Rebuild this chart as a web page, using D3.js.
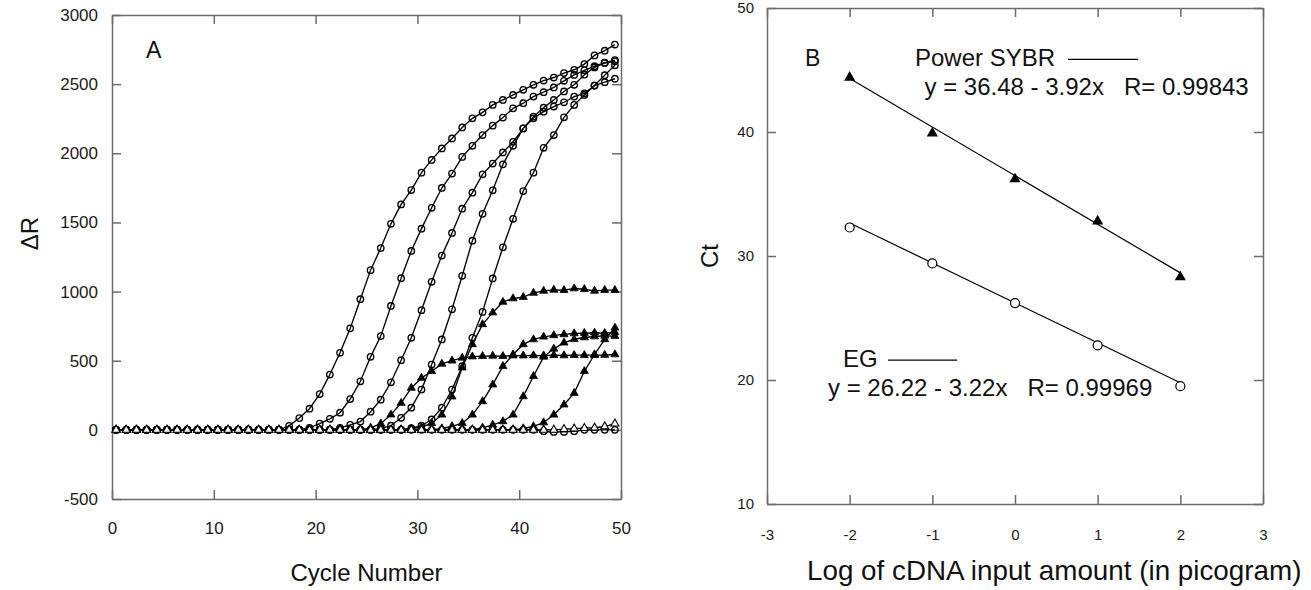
<!DOCTYPE html>
<html>
<head>
<meta charset="utf-8">
<script src="https://cdn.jsdelivr.net/npm/d3@7"></script>
<style>
  html, body { margin: 0; padding: 0; background: #fff; }
  svg { display: block; font-family: "Liberation Sans", Arial, Helvetica, sans-serif; }
  .frame .domain, .frame .tick line { stroke: #6b6b6b; stroke-width: 1.5; }
  .frame text { fill: #1a1a1a; }
</style>
</head>
<body>
<svg id="chart" width="1311" height="590"></svg>
<script>
// ---------- panel A: amplification curves (delta R per cycle) ----------
const cycles = d3.range(1, 51);

// EG runs, open circles
const egRun1 = [
  0, 0, 0, 0, 0, 0, 0, 0, 0, 0,
  0, 0, 0, 0, 0, 0, 0, 29, 85, 153,
  259, 400, 557, 734, 945, 1155, 1315, 1490, 1630, 1734,
  1860, 1952, 2035, 2107, 2187, 2253, 2296, 2350, 2386, 2422,
  2459, 2495, 2526, 2548, 2580, 2604, 2645, 2708, 2742, 2786
];
const egRun2 = [
  0, 0, 0, 0, 0, 0, 0, 0, 0, 0,
  0, 0, 0, 0, 0, 0, 0, 0, 0, 15,
  45, 80, 124, 223, 351, 528, 678, 896, 1097, 1294,
  1455, 1606, 1749, 1853, 1974, 2054, 2132, 2200, 2258, 2325,
  2362, 2410, 2442, 2476, 2524, 2567, 2600, 2630, 2655, 2674
];
const egRun3 = [
  0, 0, 0, 0, 0, 0, 0, 0, 0, 0,
  0, 0, 0, 0, 0, 0, 0, 0, 0, 0,
  0, 0, 15, 36, 60, 131, 218, 344, 504, 666,
  865, 1071, 1260, 1424, 1599, 1715, 1848, 1926, 2006, 2083,
  2180, 2253, 2301, 2338, 2369, 2410, 2434, 2490, 2514, 2539
];
const egRun4 = [
  0, 0, 0, 0, 0, 0, 0, 0, 0, 0,
  0, 0, 0, 0, 0, 0, 0, 0, 0, 0,
  0, 0, 0, 0, 0, 0, 10, 30, 87, 160,
  291, 472, 654, 872, 1114, 1368, 1562, 1732, 1920, 2054,
  2180, 2265, 2330, 2386, 2447, 2495, 2568, 2621, 2653, 2665
];
const egRun5 = [
  0, 0, 0, 0, 0, 0, 0, 0, 0, 0,
  0, 0, 0, 0, 0, 0, 0, 0, 0, 0,
  0, 0, 0, 0, 0, 0, 0, 0, 0, 12,
  30, 75, 160, 291, 460, 666, 853, 1095, 1320, 1526,
  1727, 1860, 2040, 2132, 2260, 2350, 2422, 2490, 2565, 2636
];

// Power SYBR runs, filled triangles
const sybrRun1 = [
  0, 0, 0, 0, 0, 0, 0, 0, 0, 0,
  0, 0, 0, 0, 0, 0, 0, 0, 0, 0,
  0, 0, 0, 0, 0, 15, 45, 110, 194, 303,
  375, 424, 477, 500, 521, 530, 533, 535, 533, 537,
  537, 538, 537, 540, 538, 540, 540, 540, 541, 545
];
const sybrRun2 = [
  0, 0, 0, 0, 0, 0, 0, 0, 0, 0,
  0, 0, 0, 0, 0, 0, 0, 0, 0, 0,
  0, 0, 0, 0, 0, 0, 0, 0, 0, 8,
  20, 48, 109, 240, 450, 618, 763, 848, 925, 950,
  960, 990, 1005, 1012, 1010, 1022, 1017, 1005, 1010, 1010
];
const sybrRun3 = [
  0, 0, 0, 0, 0, 0, 0, 0, 0, 0,
  0, 0, 0, 0, 0, 0, 0, 0, 0, 0,
  0, 0, 0, 0, 0, 0, 0, 0, 0, 0,
  0, 0, 10, 25, 48, 109, 206, 327, 460, 545,
  618, 654, 673, 683, 690, 697, 700, 702, 700, 705
];
const sybrRun4 = [
  0, 0, 0, 0, 0, 0, 0, 0, 0, 0,
  0, 0, 0, 0, 0, 0, 0, 0, 0, 0,
  0, 0, 0, 0, 0, 0, 0, 0, 0, 0,
  0, 0, 0, 0, 0, 0, 15, 36, 61, 109,
  242, 388, 528, 586, 630, 655, 668, 675, 680, 678
];
const sybrRun5 = [
  0, 0, 0, 0, 0, 0, 0, 0, 0, 0,
  0, 0, 0, 0, 0, 0, 0, 0, 0, 0,
  0, 0, 0, 0, 0, 0, 0, 0, 0, 0,
  0, 0, 0, 0, 0, 0, 0, 0, 0, 0,
  10, 25, 53, 109, 182, 266, 424, 545, 654, 738
];

// no-template controls
const ntcTriangle = [
  0, 0, 0, 0, 0, 0, 0, 0, 0, 0,
  0, 0, 0, 0, 0, 0, 0, 0, 0, 0,
  0, 0, 0, 0, 0, 0, 0, 0, 0, 0,
  0, 0, 0, 0, 0, 0, 0, 0, 0, 0,
  0, 0, 0, 0, 5, 8, 12, 15, 24, 45
];
const ntcCircle = [
  0, 0, 0, 0, 0, 0, 0, 0, 0, 0,
  0, 0, 0, 0, 0, 0, 0, 0, 0, 0,
  0, 0, 0, 0, 0, 0, 0, 0, 0, 0,
  0, 0, 0, 0, 0, 0, 0, 0, 0, 0,
  0, 0, -10, -15, -15, -10, 0, 0, 0, 0
];

const cycleTicks = [0, 10, 20, 30, 40, 50];
const deltaRTicks = [-500, 0, 500, 1000, 1500, 2000, 2500, 3000];

// ---------- panel B: standard curves ----------
const logInput = [-2, -1, 0, 1, 2];
const sybrCt = [44.4, 39.9, 36.2, 32.8, 28.3];
const egCt = [32.3, 29.4, 26.2, 22.8, 19.5];
const sybrFit = { intercept: 36.48, slope: -3.92, r: 0.99843 };
const egFit = { intercept: 26.22, slope: -3.22, r: 0.99969 };
const logTicks = [-3, -2, -1, 0, 1, 2, 3];
const ctTicks = [10, 20, 30, 40, 50];

const svg = d3.select("#chart");
svg.append("rect").attr("width", 1311).attr("height", 590).attr("fill", "#fff");

// frame with inward ticks on all four sides
function drawFrame(g, x, y, xTicks, yTicks, fontSize, xPad, yPad) {
  const [x0, x1] = x.range();
  const [y0, y1] = y.range();
  const fmt = d => String(d);
  g.append("g").attr("class", "frame").attr("transform", `translate(0,${y0})`)
    .call(d3.axisBottom(x).tickValues(xTicks).tickSizeInner(-9).tickSizeOuter(0).tickPadding(xPad).tickFormat(fmt));
  g.append("g").attr("class", "frame").attr("transform", `translate(0,${y1})`)
    .call(d3.axisTop(x).tickValues(xTicks).tickSizeInner(-9).tickSizeOuter(0).tickFormat(""));
  g.append("g").attr("class", "frame").attr("transform", `translate(${x0},0)`)
    .call(d3.axisLeft(y).tickValues(yTicks).tickSizeInner(-9).tickSizeOuter(0).tickPadding(yPad).tickFormat(fmt));
  g.append("g").attr("class", "frame").attr("transform", `translate(${x1},0)`)
    .call(d3.axisRight(y).tickValues(yTicks).tickSizeInner(-9).tickSizeOuter(0).tickFormat(""));
  g.selectAll(".frame").attr("font-size", fontSize).attr("font-family", null);
}

// ---------- panel A ----------
const xA = d3.scaleLinear().domain([0, 50]).range([112, 621]);
// the instrument plots cycle n slightly left of the tick for n
const xCycle = d3.scaleLinear().domain([0.6, 50.6]).range([112, 621]);
const yA = d3.scaleLinear().domain([-500, 3000]).range([499, 15]);

const gA = svg.append("g");
drawFrame(gA, xA, yA, cycleTicks, deltaRTicks, 17, 23, 14);

const lineA = d3.line().x(d => xCycle(d.c)).y(d => yA(d.v));
const asPoints = arr => arr.map((v, i) => ({ c: cycles[i], v }));

const runs = [
  { data: egRun1, mark: "circle" },
  { data: egRun2, mark: "circle" },
  { data: egRun3, mark: "circle" },
  { data: egRun4, mark: "circle" },
  { data: egRun5, mark: "circle" },
  { data: ntcCircle, mark: "circle" },
  { data: sybrRun1, mark: "triangle" },
  { data: sybrRun2, mark: "triangle" },
  { data: sybrRun3, mark: "triangle" },
  { data: sybrRun4, mark: "triangle" },
  { data: sybrRun5, mark: "triangle" },
  { data: ntcTriangle, mark: "openTriangle" }
];

const smallTri = d3.symbol(d3.symbolTriangle).size(28);

runs.forEach(run => {
  const pts = asPoints(run.data);
  const g = gA.append("g");
  g.append("path")
    .attr("d", lineA(pts))
    .attr("fill", "none")
    .attr("stroke", "#000")
    .attr("stroke-width", 1.35);
  if (run.mark === "circle") {
    g.selectAll("circle").data(pts).join("circle")
      .attr("cx", d => xCycle(d.c))
      .attr("cy", d => yA(d.v))
      .attr("r", 3.2)
      .attr("fill", "none")
      .attr("stroke", "#000")
      .attr("stroke-width", 1.35);
  } else {
    g.selectAll("path.m").data(pts).join("path")
      .attr("class", "m")
      .attr("d", smallTri)
      .attr("transform", d => `translate(${xCycle(d.c)},${yA(d.v)})`)
      .attr("fill", run.mark === "triangle" ? "#000" : "#fff")
      .attr("stroke", "#000")
      .attr("stroke-width", run.mark === "triangle" ? 0.8 : 1.1);
  }
});

gA.append("text")
  .attr("x", xA(3.35)).attr("y", yA(2690))
  .attr("font-size", 23).attr("fill", "#111")
  .text("A");

gA.append("text")
  .attr("transform", `translate(38,${yA(1420)}) rotate(-90)`)
  .attr("text-anchor", "middle")
  .attr("font-size", 24).attr("fill", "#111")
  .text("ΔR");

gA.append("text")
  .attr("x", (xA.range()[0] + xA.range()[1]) / 2).attr("y", 581)
  .attr("text-anchor", "middle")
  .attr("font-size", 24).attr("fill", "#111")
  .text("Cycle Number");

// ---------- panel B ----------
const xB = d3.scaleLinear().domain([-3, 3]).range([767, 1263]);
const yB = d3.scaleLinear().domain([10, 50]).range([504, 8]);

const gB = svg.append("g");
drawFrame(gB, xB, yB, logTicks, ctTicks, 15, 25, 13);

const fitLine = fit => [logInput[0], logInput[logInput.length - 1]]
  .map(x => [xB(x), yB(fit.intercept + fit.slope * x)]);

[sybrFit, egFit].forEach(fit => {
  gB.append("path")
    .attr("d", d3.line()(fitLine(fit)))
    .attr("stroke", "#000")
    .attr("stroke-width", 1.2)
    .attr("fill", "none");
});

gB.selectAll("path.tri").data(logInput.map((x, i) => ({ x, ct: sybrCt[i] }))).join("path")
  .attr("class", "tri")
  .attr("d", d3.symbol(d3.symbolTriangle).size(54))
  .attr("transform", d => `translate(${xB(d.x)},${yB(d.ct)})`)
  .attr("fill", "#000");

gB.selectAll("circle.eg").data(logInput.map((x, i) => ({ x, ct: egCt[i] }))).join("circle")
  .attr("class", "eg")
  .attr("cx", d => xB(d.x))
  .attr("cy", d => yB(d.ct))
  .attr("r", 4.5)
  .attr("fill", "#fff")
  .attr("stroke", "#000")
  .attr("stroke-width", 1.2);

// labels and legend
const fmtEq = f => `y = ${f.intercept.toFixed(2)} - ${Math.abs(f.slope).toFixed(2)}x\u00a0\u00a0\u00a0R= ${f.r}`;

gB.append("text").attr("x", xB(-2.54)).attr("y", yB(45.3))
  .attr("font-size", 23).attr("fill", "#111").text("B");

gB.append("text").attr("x", xB(-1.21)).attr("y", yB(45.3))
  .attr("font-size", 24).attr("fill", "#111").text("Power SYBR");
gB.append("line")
  .attr("x1", xB(0.64)).attr("x2", xB(1.49))
  .attr("y1", yB(45.85)).attr("y2", yB(45.85))
  .attr("stroke", "#000").attr("stroke-width", 1.2);
gB.append("text").attr("x", xB(-1.095)).attr("y", yB(42.98))
  .attr("font-size", 24).attr("fill", "#111").text(fmtEq(sybrFit));

gB.append("text").attr("x", xB(-2.08)).attr("y", yB(21.07))
  .attr("font-size", 24).attr("fill", "#111").text("EG");
gB.append("line")
  .attr("x1", xB(-1.536)).attr("x2", xB(-0.70))
  .attr("y1", yB(21.61)).attr("y2", yB(21.61))
  .attr("stroke", "#000").attr("stroke-width", 1.2);
gB.append("text").attr("x", xB(-2.262)).attr("y", yB(18.71))
  .attr("font-size", 24).attr("fill", "#111").text(fmtEq(egFit));

gB.append("text")
  .attr("transform", `translate(718,${(yB.range()[0] + yB.range()[1]) / 2}) rotate(-90)`)
  .attr("text-anchor", "middle")
  .attr("font-size", 24).attr("fill", "#111")
  .text("Ct");

gB.append("text")
  .attr("x", 807).attr("y", 580)
  .attr("font-size", 27.8).attr("fill", "#111")
  .text("Log of cDNA input amount (in picogram)");
</script>
</body>
</html>
